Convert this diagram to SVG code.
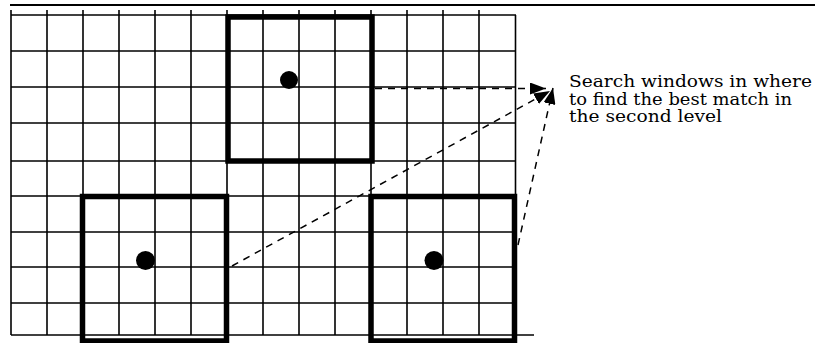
<svg xmlns="http://www.w3.org/2000/svg" width="815" height="343" viewBox="0 0 815 343">
<style>
.grid line{stroke:#000;stroke-width:1.6}
.win{fill:none;stroke:#000;stroke-width:5.5}
.dot{fill:#000}
.dash{stroke:#000;stroke-width:1.5;stroke-dasharray:7 6;fill:none}
.lbl{font-family:"DejaVu Serif","Liberation Serif",serif;font-size:16px;fill:#000}
</style>
<defs>
<marker id="ah" viewBox="0 0 16 12" refX="16" refY="6" markerWidth="16" markerHeight="12" markerUnits="userSpaceOnUse" orient="auto">
<path d="M0,0 L16,6 L0,12 Z" fill="#000"/>
</marker>
</defs>
<line x1="10" y1="5" x2="815" y2="5" stroke="#000" stroke-width="2"/>
<g id="grid" class="grid">
<line x1="11" y1="10" x2="11" y2="335"/>
<line x1="47" y1="10" x2="47" y2="335"/>
<line x1="83" y1="10" x2="83" y2="335"/>
<line x1="119" y1="10" x2="119" y2="335"/>
<line x1="155" y1="10" x2="155" y2="335"/>
<line x1="191" y1="10" x2="191" y2="335"/>
<line x1="227" y1="10" x2="227" y2="335"/>
<line x1="263" y1="10" x2="263" y2="335"/>
<line x1="299" y1="10" x2="299" y2="335"/>
<line x1="335" y1="10" x2="335" y2="335"/>
<line x1="371" y1="10" x2="371" y2="335"/>
<line x1="407" y1="10" x2="407" y2="335"/>
<line x1="443" y1="10" x2="443" y2="335"/>
<line x1="479" y1="10" x2="479" y2="335"/>
<line x1="515.5" y1="15" x2="515.5" y2="335"/>
<line x1="11" y1="15" x2="516" y2="15"/>
<line x1="11" y1="51" x2="516" y2="51"/>
<line x1="11" y1="87" x2="516" y2="87"/>
<line x1="11" y1="123" x2="516" y2="123"/>
<line x1="11" y1="161" x2="516" y2="161"/>
<line x1="11" y1="196" x2="516" y2="196"/>
<line x1="11" y1="232" x2="516" y2="232"/>
<line x1="11" y1="267" x2="516" y2="267"/>
<line x1="11" y1="303" x2="516" y2="303"/>
<line x1="11" y1="335" x2="534" y2="335"/>
</g>
<g id="window-top">
<rect class="win" x="228" y="17" width="144" height="144"/>
<circle class="dot" cx="289" cy="80" r="9"/>
</g>
<g id="window-left">
<rect class="win" x="82.5" y="196.5" width="144" height="144.5"/>
<circle class="dot" cx="145.5" cy="260.5" r="9.5"/>
</g>
<g id="window-right">
<rect class="win" x="371" y="196.5" width="143.5" height="144.5"/>
<circle class="dot" cx="434" cy="260.5" r="9.5"/>
</g>
<g id="connectors">
<line class="dash" x1="375" y1="88.5" x2="546" y2="88.5" stroke-width="2" marker-end="url(#ah)"/>
<line class="dash" x1="232" y1="266" x2="550" y2="91" marker-end="url(#ah)"/>
<line class="dash" x1="518" y1="245" x2="553" y2="88" marker-end="url(#ah)"/>
</g>
<g id="label">
<text class="lbl" x="569" y="87" textLength="243" lengthAdjust="spacingAndGlyphs">Search windows in where</text>
<text class="lbl" x="569" y="104.5" textLength="223" lengthAdjust="spacingAndGlyphs">to find the best match in</text>
<text class="lbl" x="569" y="122" textLength="153" lengthAdjust="spacingAndGlyphs">the second level</text>
</g>
</svg>
